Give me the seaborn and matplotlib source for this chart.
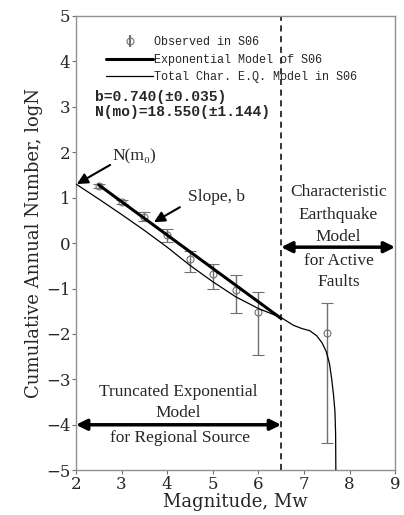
import numpy as np
import pandas as pd
import seaborn as sns
import matplotlib.pyplot as plt
from matplotlib.lines import Line2D

# Observed data in S06 (magnitude, logN and error-bar ends)
obs_mag = [2.5, 3.0, 3.5, 4.0, 4.5, 5.0, 5.5, 6.0, 7.5]
obs_logn = [1.26, 0.90, 0.58, 0.18, -0.36, -0.69, -1.04, -1.51, -1.99]
obs_upper = [1.30, 0.94, 0.68, 0.32, -0.17, -0.45, -0.70, -1.07, -1.31]
obs_lower = [1.22, 0.86, 0.48, 0.03, -0.63, -1.02, -1.55, -2.47, -4.40]

# Exponential model of S06 (thick line)
exp_mag = [2.5, 6.5]
exp_logn = [1.28, -1.66]

# Total characteristic earthquake model in S06 (thin line)
char_mag = [2.0, 2.5, 3.0, 3.5, 4.0, 4.5, 5.0, 5.5, 6.0, 6.5, 6.77, 6.95,
            7.13, 7.28, 7.40, 7.49, 7.56, 7.61, 7.65, 7.68, 7.695, 7.70]
char_logn = [1.30, 0.97, 0.63, 0.28, -0.09, -0.49, -0.85, -1.18, -1.44, -1.64,
             -1.81, -1.88, -1.93, -2.04, -2.20, -2.39, -2.65, -3.00, -3.35,
             -3.70, -4.20, -5.00]

x_ticks = [2, 3, 4, 5, 6, 7, 8, 9]
y_ticks = [-5, -4, -3, -2, -1, 0, 1, 2, 3, 4, 5]

sns.set_style("ticks")
plt.rcParams['font.family'] = ['DejaVu Serif']
serif = ['Liberation Serif', 'DejaVu Serif']
mono = ['Liberation Mono', 'DejaVu Sans Mono']
gray = '#707070'

fig, ax = plt.subplots(figsize=(4.04, 5.15), dpi=100)
fig.subplots_adjust(left=0.188, right=0.978, top=0.969, bottom=0.087)

obs_df = pd.DataFrame({'mag': obs_mag, 'logn': obs_logn,
                       'up': obs_upper, 'lo': obs_lower})
yerr = [obs_df['logn'] - obs_df['lo'], obs_df['up'] - obs_df['logn']]
ax.errorbar(obs_df['mag'], obs_df['logn'], yerr=yerr, fmt='o', mfc='none',
            mec=gray, ecolor=gray, ms=5, mew=0.8, elinewidth=1.0,
            capsize=4, capthick=1.0, zorder=3)

sns.lineplot(x=exp_mag, y=exp_logn, ax=ax, color='black', lw=2.2, zorder=4)
sns.lineplot(x=char_mag, y=char_logn, ax=ax, color='black', lw=0.9,
             sort=False, zorder=4)

# vertical boundary
ax.axvline(6.5, color='black', lw=1.1, ls=(0, (4, 3)), zorder=2)

# double arrows for the two models
ax.annotate('', xy=(2.0, -4.0), xytext=(6.5, -4.0),
            arrowprops=dict(arrowstyle='<|-|>', lw=2.5, color='black',
                            mutation_scale=16, shrinkA=0, shrinkB=0))
ax.annotate('', xy=(6.5, -0.09), xytext=(9.0, -0.09),
            arrowprops=dict(arrowstyle='<|-|>', lw=2.5, color='black',
                            mutation_scale=16, shrinkA=0, shrinkB=0))

tfs = 12.5
ax.text(4.25, -3.28, 'Truncated Exponential', ha='center', va='center', fontsize=tfs, family=serif)
ax.text(4.25, -3.75, 'Model', ha='center', va='center', fontsize=tfs, family=serif)
ax.text(4.28, -4.30, 'for Regional Source', ha='center', va='center', fontsize=tfs, family=serif)

ax.text(7.76, 1.13, 'Characteristic', ha='center', va='center', fontsize=tfs, family=serif)
ax.text(7.76, 0.62, 'Earthquake', ha='center', va='center', fontsize=tfs, family=serif)
ax.text(7.76, 0.14, 'Model', ha='center', va='center', fontsize=tfs, family=serif)
ax.text(7.76, -0.39, 'for Active', ha='center', va='center', fontsize=tfs, family=serif)
ax.text(7.76, -0.85, 'Faults', ha='center', va='center', fontsize=tfs, family=serif)

# N(m0) and slope annotations
ax.text(3.29, 1.90, 'N(m\u2080)', ha='center', va='center', fontsize=tfs, family=serif)
ax.annotate('', xy=(2.02, 1.30), xytext=(2.75, 1.72),
            arrowprops=dict(arrowstyle='-|>', lw=1.5, color='black',
                            mutation_scale=16, shrinkA=0, shrinkB=0))
ax.text(5.09, 1.02, 'Slope, b', ha='center', va='center', fontsize=tfs, family=serif)
ax.annotate('', xy=(3.71, 0.46), xytext=(4.28, 0.79),
            arrowprops=dict(arrowstyle='-|>', lw=1.5, color='black',
                            mutation_scale=16, shrinkA=0, shrinkB=0))

# fit parameters
ax.text(2.42, 3.22, 'b=0.740(\u00b10.035)', ha='left', va='center',
        fontsize=10.5, fontweight='bold', family=mono)
ax.text(2.42, 2.89, 'N(mo)=18.550(\u00b11.144)', ha='left', va='center',
        fontsize=10.5, fontweight='bold', family=mono)

# legend
handles = [
    ax.errorbar([], [], yerr=[], fmt='o', mfc='none', mec=gray, ecolor=gray,
                ms=5, mew=0.8, capsize=3),
    Line2D([], [], color='black', lw=2.2),
    Line2D([], [], color='black', lw=0.9),
]
labels = ['Observed in S06', 'Exponential Model of S06', 'Total Char. E.Q. Model in S06']
ax.legend(handles, labels, loc='upper left', bbox_to_anchor=(0.094, 0.955),
          frameon=False, borderpad=0, borderaxespad=0, handlelength=4.0,
          handletextpad=0.1, labelspacing=0.45, prop={'family': mono, 'size': 8.5})

ax.set_xlim(2, 9)
ax.set_ylim(-5, 5)
ax.set_xticks(x_ticks)
ax.set_yticks(y_ticks)
ax.set_yticklabels(['\u2212%d' % -v if v < 0 else str(v) for v in y_ticks])
ax.tick_params(axis='both', labelsize=12, color=gray, length=3, width=0.8, pad=1)
for side in ['left', 'bottom', 'top', 'right']:
    ax.spines[side].set_color('#909090')
    ax.spines[side].set_linewidth(1.0)

ax.set_xlabel('Magnitude, Mw', fontsize=13, labelpad=0)
ax.set_ylabel('Cumulative Annual Number, logN', fontsize=13, labelpad=2)

plt.savefig('out.png', dpi=100)
